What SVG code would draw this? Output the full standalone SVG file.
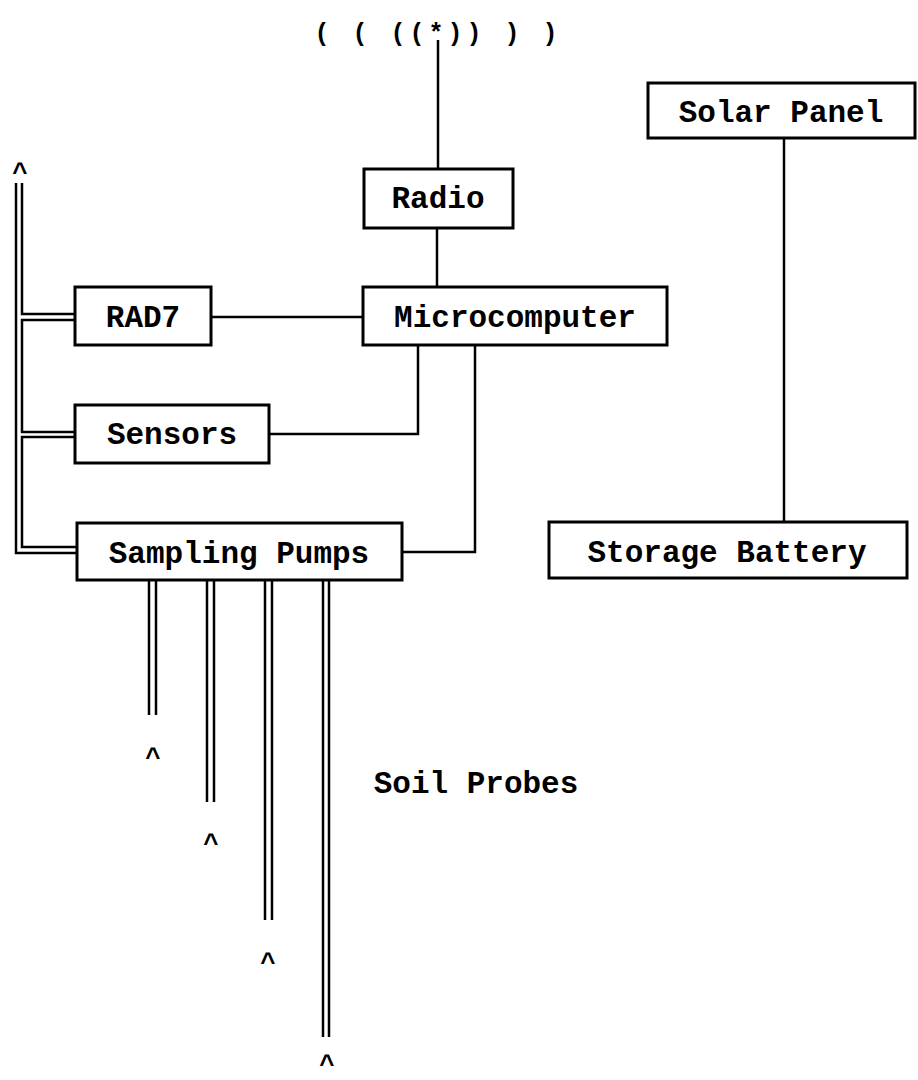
<svg xmlns="http://www.w3.org/2000/svg" width="918" height="1080" viewBox="0 0 918 1080">
<style>
.box{fill:#fff;stroke:#000;stroke-width:3}
.lbl{font-family:"Liberation Mono","Courier New",monospace;font-weight:bold;font-size:31px;text-anchor:middle;fill:#000}
.ln{fill:none;stroke:#000;stroke-width:2.5}
.car{font-family:"Liberation Mono",monospace;font-weight:bold;font-size:26px;text-anchor:middle;fill:#000}
</style>
<rect width="918" height="1080" fill="#fff"/>
<g id="connectors">
<path class="ln" d="M438 40V169"/>
<path class="ln" d="M437 228V287"/>
<path class="ln" d="M211 317H363"/>
<path class="ln" d="M269 434H418V345"/>
<path class="ln" d="M402 552H475V345"/>
<path class="ln" d="M784 138V522"/>
<path class="ln" d="M16 183V553H77"/>
<path class="ln" d="M22 183V314H75M75 320H22V432H75M75 437H22V547H77"/>
<path class="ln" d="M149 580V715M156 580V715"/>
<path class="ln" d="M207 580V802M214 580V802"/>
<path class="ln" d="M265 580V920M272 580V920"/>
<path class="ln" d="M323 580V1037M329 580V1037"/>
</g>
<g id="antenna"><text x="438" y="41" font-family="Liberation Mono,monospace" font-weight="bold" font-size="25" text-anchor="middle" letter-spacing="4" xml:space="preserve">( ( ((*)) ) )</text></g>
<g id="radio"><rect class="box" x="364" y="169" width="149" height="59"/><text class="lbl" x="438" y="208">Radio</text></g>
<g id="microcomputer"><rect class="box" x="363" y="287" width="304" height="58"/><text class="lbl" x="515" y="327">Microcomputer</text></g>
<g id="rad7"><rect class="box" x="75" y="287" width="136" height="58"/><text class="lbl" x="143" y="327">RAD7</text></g>
<g id="sensors"><rect class="box" x="75" y="405" width="194" height="58"/><text class="lbl" x="172" y="444">Sensors</text></g>
<g id="sampling-pumps"><rect class="box" x="77" y="523" width="325" height="57"/><text class="lbl" x="239" y="563">Sampling Pumps</text></g>
<g id="solar-panel"><rect class="box" x="648" y="83" width="267" height="55"/><text class="lbl" x="781" y="122">Solar Panel</text></g>
<g id="storage-battery"><rect class="box" x="549" y="522" width="358" height="56"/><text class="lbl" x="727" y="562">Storage Battery</text></g>
<g id="soil-probes"><text class="lbl" x="476" y="793">Soil Probes</text></g>
<g id="carets">
<text class="car" x="20" y="181">^</text>
<text class="car" x="153" y="766">^</text>
<text class="car" x="211" y="852">^</text>
<text class="car" x="268" y="971">^</text>
<text class="car" x="327" y="1073" font-size="24">^</text>
</g>
</svg>
